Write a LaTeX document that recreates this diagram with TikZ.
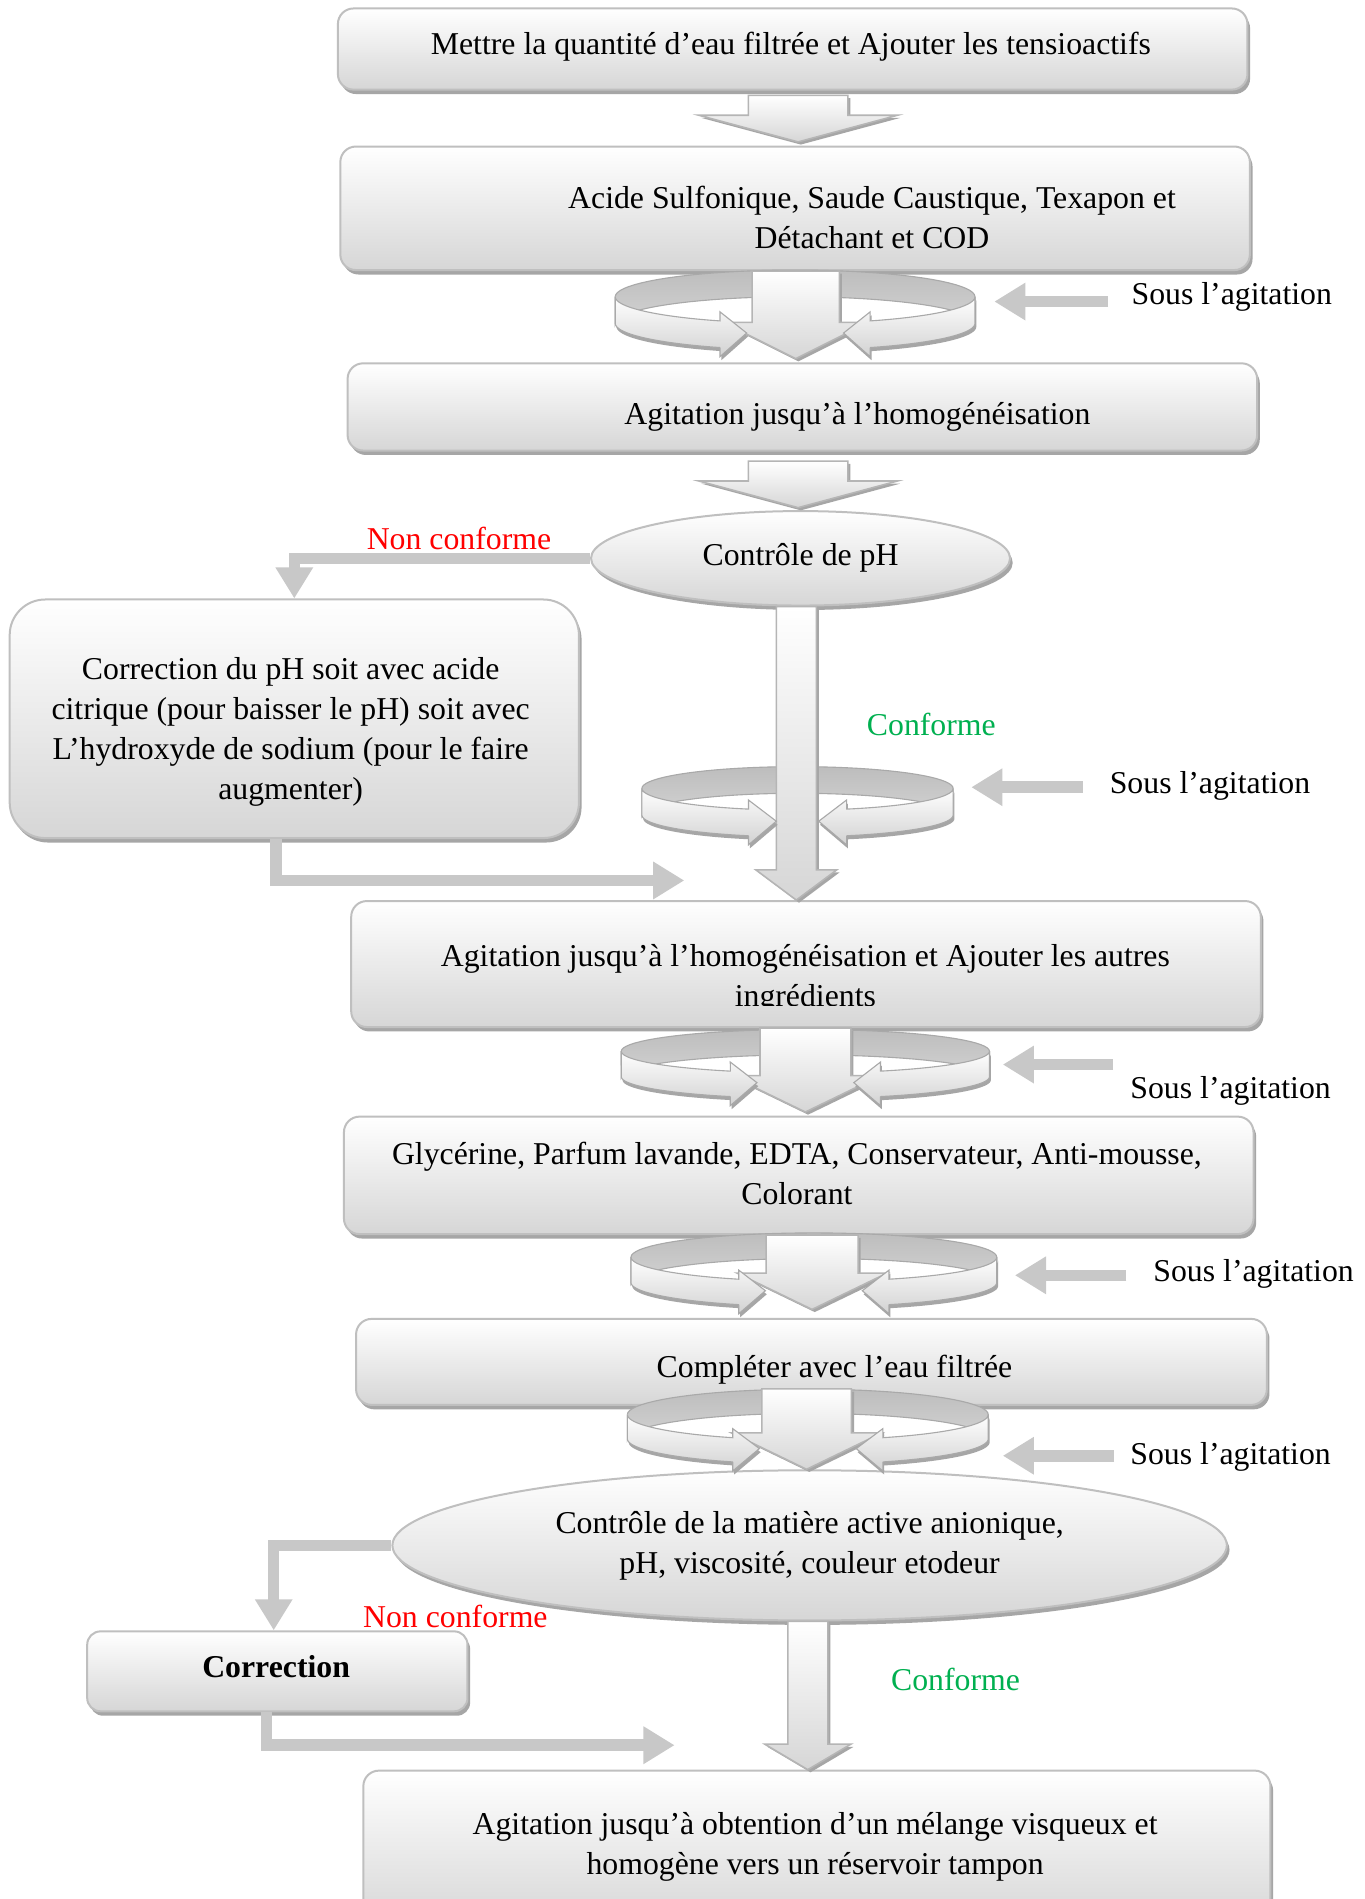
\documentclass[tikz,border=0pt]{standalone}
\usepackage{fontspec}
\setmainfont{Liberation Serif}
\usetikzlibrary{shapes.geometric,arrows.meta,shadows,calc}

\definecolor{boxline}{HTML}{BFBFBF}
\definecolor{boxbot}{HTML}{D6D6D6}
\definecolor{shadowgray}{HTML}{A6A6A6}
\definecolor{flatgray}{HTML}{C8C8C8}
\definecolor{ringtop}{HTML}{BDBDBD}
\definecolor{ringbot}{HTML}{D2D2D2}
\definecolor{ringedge}{HTML}{A9A9A9}
\definecolor{arrowline}{HTML}{B5B5B5}
\definecolor{okgreen}{HTML}{00B050}

\newcommand\dunit{0.545pt}
\newcommand\bodyfont{\fontsize{14.3pt}{18pt}\selectfont}

% straight block arrow pointing down, from one node anchor to another
% #1 start, #2 end, #3 x of axis, #4 half shaft, #5 half head, #6 head length
\newcommand\blockdown[6]{%
  \path[blockarrow] let \p1=(#1), \p2=(#2) in
    ({(#3-#4)*\dunit},\y1) -- ({(#3+#4)*\dunit},\y1)
    -- ({(#3+#4)*\dunit},{\y2+#6*\dunit}) -- ({(#3+#5)*\dunit},{\y2+#6*\dunit})
    -- ({#3*\dunit},\y2)
    -- ({(#3-#5)*\dunit},{\y2+#6*\dunit}) -- ({(#3-#4)*\dunit},{\y2+#6*\dunit}) -- cycle;}

% far half of the stirring ribbon: #1 cx, #2 top-ellipse cy, #3 a, #4 b, #5 ribbon height
\newcommand\stirback[5]{%
  \path[ringback] plot[domain=180:360,samples=41] ({#1+#3*cos(\x)},{#2+#4*sin(\x)})
    -- plot[domain=0:-180,samples=41] ({#1+#3*cos(\x)},{#2+#5+#4*sin(\x)}) -- cycle;}

% near half of the stirring ribbon, ending in two heads facing the axis
% #6 offset of head base from axis, #7 offset of head tip from axis
\newcommand\stirfront[7]{%
  \pgfmathsetmacro\rth{acos(-(#6)/(#3))}%
  \pgfmathsetmacro\rtt{180-\rth}%
  \pgfmathsetmacro\ryt{#2+#4*sin(\rth)}%
  \pgfmathsetmacro\ryb{\ryt+#5}%
  \pgfmathsetmacro\rym{\ryt+#5/2-1}%
  \path[ringfront] plot[domain=180:\rth,samples=31] ({#1+#3*cos(\x)},{#2+#4*sin(\x)})
    -- ({#1-#6},{\ryt-7.5}) -- ({#1-#7},{\rym}) -- ({#1-#6},{\ryb+7.5}) -- ({#1-#6},{\ryb})
    -- plot[domain=\rth:180,samples=31] ({#1+#3*cos(\x)},{#2+#5+#4*sin(\x)}) -- cycle;
  \path[ringfront] plot[domain=0:\rtt,samples=31] ({#1+#3*cos(\x)},{#2+#4*sin(\x)})
    -- ({#1+#6},{\ryt-7.5}) -- ({#1+#7},{\rym}) -- ({#1+#6},{\ryb+7.5}) -- ({#1+#6},{\ryb})
    -- plot[domain=\rtt:0,samples=31] ({#1+#3*cos(\x)},{#2+#5+#4*sin(\x)}) -- cycle;}

\begin{document}
\begin{tikzpicture}[x=0.545pt,y=-0.545pt,
  box/.style={rounded corners=7pt, draw=boxline, line width=0.9pt,
    top color=white, bottom color=boxbot, inner sep=0pt, align=center, font=\bodyfont,
    drop shadow={shadow xshift=1.2pt, shadow yshift=-2pt, fill=shadowgray, opacity=1}},
  oval/.style={ellipse, draw=boxline, line width=0.9pt,
    top color=white, bottom color=boxbot, inner sep=0pt, align=center, font=\bodyfont,
    drop shadow={shadow xshift=1.2pt, shadow yshift=-2pt, fill=shadowgray, opacity=1}},
  txt/.style={align=center, inner sep=0pt, font=\bodyfont},
  blockarrow/.style={draw=arrowline, line width=0.7pt, line join=miter,
    top color=white, bottom color=boxbot,
    drop shadow={shadow xshift=1.2pt, shadow yshift=-1.2pt, fill=shadowgray, opacity=1}},
  ringback/.style={top color=ringtop, bottom color=ringbot, draw=ringedge, line width=0.5pt},
  ringfront/.style={top color=white, bottom color=ringbot, draw=ringedge, line width=0.5pt,
    drop shadow={shadow xshift=0.6pt, shadow yshift=-1.6pt, fill=shadowgray, opacity=1}},
  flat/.style={draw=flatgray, line width=5.2pt, line join=miter,
    -{Triangle[length=14pt,width=16pt]}},
]
\fill[white] (0,0) rectangle (1127,1568);
\useasboundingbox (0,0) rectangle (1127,1568);
\clip (0,0) rectangle (1127,1568);

% process boxes
\node[box, minimum width={751*\dunit}, minimum height={67*\dunit}] (b1) at (654.5,40.5) {};
\node[txt] (t1) at (653,38.5) {Mettre la quantité d’eau filtrée et Ajouter les tensioactifs};
\node[box, minimum width={751*\dunit}, minimum height={102*\dunit}] (b2) at (656.5,172) {};
\node[txt] (t2) at (720,179.5) {Acide Sulfonique, Saude Caustique, Texapon et\\Détachant et COD};
\node[box, minimum width={751*\dunit}, minimum height={72*\dunit}] (b3) at (662.5,336) {};
\node[txt] (t3) at (708,344) {Agitation jusqu’à l’homogénéisation};
\node[oval, minimum width={346*\dunit}, minimum height={78*\dunit}] (e1) at (661,461) {Contrôle de pH};
\node[box, rounded corners=16pt, minimum width={470*\dunit}, minimum height={197*\dunit}] (b4) at (243,593.5) {};
\node[txt] (t4) at (240,604.5)
  {Correction du pH soit avec acide\\citrique (pour baisser le pH) soit avec\\L’hydroxyde de sodium (pour le faire\\augmenter)};
\node[box, minimum width={751*\dunit}, minimum height={104*\dunit}] (b5) at (665.5,796) {};
\begin{scope}
  % the second line sits on the lower edge of its box and is cut there
  \clip (290,744) rectangle (1041,830);
  \node[txt] (t5) at (665,808) {Agitation jusqu’à l’homogénéisation et Ajouter les autres\\ingrédients};
\end{scope}
\node[box, minimum width={751*\dunit}, minimum height={97*\dunit}] (b6) at (659.5,970.5) {};
\node[txt] (t6) at (658,969)
  {Glycérine, Parfum lavande, EDTA, Conservateur, Anti-mousse,\\Colorant};
\node[box, minimum width={752*\dunit}, minimum height={71*\dunit}] (b7) at (670,1124.5) {};
\node[txt] (t7) at (689,1131) {Compléter avec l’eau filtrée};
\node[oval, minimum width={689*\dunit}, minimum height={124*\dunit}] (e2) at (668.5,1276)
  {Contrôle de la matière active anionique,\\pH, viscosité, couleur etodeur};
\node[box, rounded corners=6pt, minimum width={314*\dunit}, minimum height={66*\dunit}] (b8) at (229,1380) {};
\node[txt] (t8) at (228,1376) {\textbf{Correction}};
\node[box, minimum width={749*\dunit}, minimum height={130*\dunit}] (b9) at (674.5,1527) {};
\node[txt] (t9) at (673,1525) {Agitation jusqu’à obtention d’un mélange visqueux et\\homogène vers un réservoir tampon};

% decision labels
\node[txt, text=red] (nc1) at (379,445) {Non conforme};
\node[txt, text=okgreen] (ok1) at (769,598) {Conforme};
\node[txt, text=red] (nc2) at (376,1335) {Non conforme};
\node[txt, text=okgreen] (ok2) at (789,1387) {Conforme};

% stirring notes
\node[txt, anchor=west] (s1) at (934,245) {Sous l’agitation};
\node[txt, anchor=west] (s2) at (916,649) {Sous l’agitation};
\node[txt, anchor=west] (s3) at (933,901) {Sous l’agitation};
\node[txt, anchor=west] (s4) at (952,1052) {Sous l’agitation};
\node[txt, anchor=west] (s5) at (933,1203) {Sous l’agitation};
\coordinate (sa1) at (915,249);  \coordinate (sb1) at (821,249);
\coordinate (sa2) at (894,650);  \coordinate (sb2) at (802,650);
\coordinate (sa3) at (919,879);  \coordinate (sb3) at (828,879);
\coordinate (sa4) at (930,1053); \coordinate (sb4) at (838,1053);
\coordinate (sa5) at (920,1202); \coordinate (sb5) at (828,1202);
\foreach \i in {1,...,5} \draw[flat] (sa\i) -- (sb\i);

% plain block arrows
\blockdown{[yshift={-4*\dunit}]b1.south}{[yshift={3*\dunit}]b2.north}{659}{41}{82}{22}
\blockdown{[yshift={-8*\dunit}]b3.south}{[yshift={2*\dunit}]e1.north}{659}{41}{82}{22}

% stirring steps
\stirback{656.5}{245}{148.5}{22}{22}
\blockdown{b2.south}{[yshift={3*\dunit}]b3.north}{657}{36}{60}{30}
\stirfront{656.5}{245}{148.5}{22}{22}{62}{40}

\stirback{658.5}{651}{128.5}{18}{22}
\blockdown{e1.south}{b5.north}{657.5}{16.5}{33.5}{25}
\stirfront{658.5}{651}{128.5}{18}{22}{40.5}{17.5}

\stirback{665}{868}{152}{18}{21}
\blockdown{b5.south}{[yshift={3*\dunit}]b6.north}{665}{37.5}{62}{30}
\stirfront{665}{868}{152}{18}{21}{62}{40}

\stirback{672}{1038}{151}{20}{21}
\blockdown{b6.south}{[yshift={7*\dunit}]b7.north}{670.5}{38}{62}{30}
\stirfront{672}{1038}{151}{20}{21}{62}{40}

\stirback{667}{1168}{149}{21}{20}
\blockdown{[yshift={14*\dunit}]b7.south}{e2.north}{666}{37}{62}{30}
\stirfront{667}{1168}{149}{21}{20}{62}{40}

\blockdown{e2.south}{b9.north}{667}{16.5}{35.5}{21}

% non-conformity loops
\draw[flat] (e1.west) -| (b4.north);
\coordinate (k4) at (565,727);
\draw[flat] ([xshift={-15*\dunit}]b4.south) |- (k4);
\draw[flat] (e2.west) -| ([xshift={-3*\dunit}]b8.north);
\coordinate (k8) at (557,1441);
\draw[flat] ([xshift={-9*\dunit}]b8.south) |- (k8);
\end{tikzpicture}
\end{document}
